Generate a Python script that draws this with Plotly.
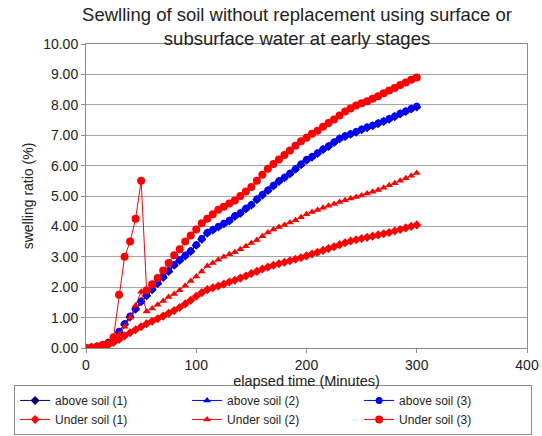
import plotly.graph_objects as go

# elapsed time (minutes)
time_min = list(range(0, 305, 5))

above_soil_1 = [0.00, 0.02, 0.05, 0.10, 0.17, 0.28, 0.52, 0.78, 1.02, 1.28, 1.52, 1.72, 1.92, 2.12, 2.32, 2.52,
                2.72, 2.88, 3.03, 3.18, 3.38, 3.58, 3.78, 3.88, 3.98, 4.08, 4.18, 4.33, 4.43, 4.58, 4.70,
                4.88, 5.03, 5.18, 5.33, 5.48, 5.60, 5.73, 5.88, 6.03, 6.18, 6.28, 6.40, 6.53, 6.63, 6.76,
                6.88, 6.96, 7.03, 7.10, 7.18, 7.25, 7.31, 7.38, 7.45, 7.53, 7.61, 7.70, 7.78, 7.86, 7.93]
above_soil_2 = [0.00, 0.02, 0.05, 0.10, 0.18, 0.29, 0.54, 0.79, 1.04, 1.29, 1.54, 1.74, 1.94, 2.14, 2.34, 2.54,
                2.74, 2.89, 3.04, 3.19, 3.39, 3.59, 3.79, 3.89, 3.99, 4.09, 4.19, 4.34, 4.44, 4.59, 4.71,
                4.89, 5.04, 5.19, 5.34, 5.49, 5.61, 5.74, 5.89, 6.04, 6.19, 6.29, 6.41, 6.54, 6.64, 6.77,
                6.89, 6.97, 7.04, 7.11, 7.19, 7.26, 7.32, 7.39, 7.46, 7.54, 7.62, 7.71, 7.79, 7.87, 7.94]
above_soil_3 = [0.00, 0.02, 0.05, 0.10, 0.18, 0.30, 0.55, 0.80, 1.05, 1.30, 1.55, 1.75, 1.95, 2.15, 2.35, 2.55,
                2.75, 2.90, 3.05, 3.20, 3.40, 3.60, 3.80, 3.90, 4.00, 4.10, 4.20, 4.35, 4.45, 4.60, 4.72,
                4.90, 5.05, 5.20, 5.35, 5.50, 5.62, 5.75, 5.90, 6.05, 6.20, 6.30, 6.42, 6.55, 6.65, 6.78,
                6.90, 6.98, 7.05, 7.12, 7.20, 7.27, 7.33, 7.40, 7.47, 7.55, 7.63, 7.72, 7.80, 7.88, 7.95]
under_soil_1 = [0.00, 0.01, 0.03, 0.06, 0.10, 0.18, 0.28, 0.40, 0.50, 0.60, 0.70, 0.80, 0.88, 0.96, 1.05, 1.14,
                1.23, 1.33, 1.45, 1.57, 1.70, 1.82, 1.92, 1.98, 2.04, 2.10, 2.17, 2.23, 2.30, 2.37, 2.45,
                2.52, 2.60, 2.66, 2.72, 2.77, 2.82, 2.87, 2.92, 2.97, 3.03, 3.09, 3.15, 3.21, 3.27, 3.33,
                3.40, 3.46, 3.52, 3.56, 3.60, 3.64, 3.68, 3.72, 3.76, 3.80, 3.85, 3.90, 3.95, 4.00, 4.05]
under_soil_2 = [0.00, 0.02, 0.05, 0.10, 0.15, 0.25, 0.45, 0.70, 1.00, 1.40, 1.85, 1.20, 1.30, 1.42, 1.55, 1.68,
                1.78, 1.90, 2.05, 2.20, 2.35, 2.52, 2.70, 2.80, 2.90, 3.00, 3.08, 3.15, 3.25, 3.35, 3.45,
                3.55, 3.68, 3.80, 3.90, 3.98, 4.05, 4.13, 4.20, 4.30, 4.40, 4.47, 4.54, 4.61, 4.68, 4.74,
                4.80, 4.86, 4.92, 4.97, 5.02, 5.08, 5.14, 5.20, 5.27, 5.35, 5.42, 5.50, 5.58, 5.67, 5.76]
under_soil_3 = [0.00, 0.02, 0.05, 0.10, 0.15, 0.35, 1.75, 3.00, 3.50, 4.25, 5.50, 1.90, 2.10, 2.30, 2.55, 2.80,
                3.05, 3.25, 3.50, 3.70, 3.90, 4.10, 4.25, 4.40, 4.55, 4.65, 4.75, 4.85, 5.00, 5.15, 5.30,
                5.50, 5.70, 5.90, 6.05, 6.20, 6.35, 6.50, 6.65, 6.80, 6.92, 7.05, 7.15, 7.28, 7.40, 7.52,
                7.65, 7.78, 7.88, 7.98, 8.05, 8.12, 8.20, 8.28, 8.38, 8.47, 8.55, 8.65, 8.73, 8.82, 8.90]

series_names = ["above soil (1)", "above soil (2)", "above soil (3)",
                "Under soil (1)", "Under soil (2)", "Under soil (3)"]
series_values = [above_soil_1, above_soil_2, above_soil_3, under_soil_1, under_soil_2, under_soil_3]
colors = ["#000080", "#0000FF", "#0000FF", "#FF0000", "#FF0000", "#FF0000"]
symbols = ["diamond", "triangle-up", "circle", "diamond", "triangle-up", "circle"]
sizes = [7, 7, 7, 7, 7, 8]

fig = go.Figure()
for name, vals, c, s, sz in zip(series_names, series_values, colors, symbols, sizes):
    fig.add_trace(go.Scatter(
        x=time_min, y=vals, name=name, mode="lines+markers",
        line=dict(color=c, width=1),
        marker=dict(color=c, symbol=s, size=sz, line=dict(width=0)),
    ))

axis_common = dict(
    showline=True, linecolor="#8c8c8c", linewidth=1, mirror=True,
    ticks="outside", ticklen=4, tickcolor="#8c8c8c",
    zeroline=False, tickfont=dict(size=14, color="#222222"),
)

fig.update_layout(
    width=542, height=436,
    paper_bgcolor="white", plot_bgcolor="white",
    font=dict(family="Liberation Sans, Arial, sans-serif", color="#222222"),
    margin=dict(l=86, r=15, t=44, b=88, pad=0, autoexpand=False),
    title=dict(text="Sewlling of soil without replacement using surface or<br>subsurface water at early stages",
               x=0.548, xanchor="center", y=0.952, yanchor="top",
               font=dict(size=18.5, color="#222222")),
    xaxis=dict(range=[0, 400], dtick=100, showgrid=False, automargin=True,
               title=dict(text="elapsed time (Minutes)", font=dict(size=14.5), standoff=2),
               **axis_common),
    yaxis=dict(range=[0, 10], dtick=1, tickformat=".2f", showgrid=True,
               gridcolor="#a6a6a6", gridwidth=1,
               title=dict(text="swelling ratio (%)", font=dict(size=14), standoff=6),
               **axis_common),
    legend=dict(orientation="h", x=-0.163, xanchor="left", y=-0.286, yanchor="bottom",
                entrywidth=127, entrywidthmode="pixels", tracegroupgap=0, itemwidth=30,
                bordercolor="#8c8c8c", borderwidth=1, font=dict(size=12, color="#222222")),
    showlegend=True,
)

fig.write_html("out.html", config={"displayModeBar": False},
               post_script="document.body.style.margin='0';document.body.style.overflow='hidden';")
